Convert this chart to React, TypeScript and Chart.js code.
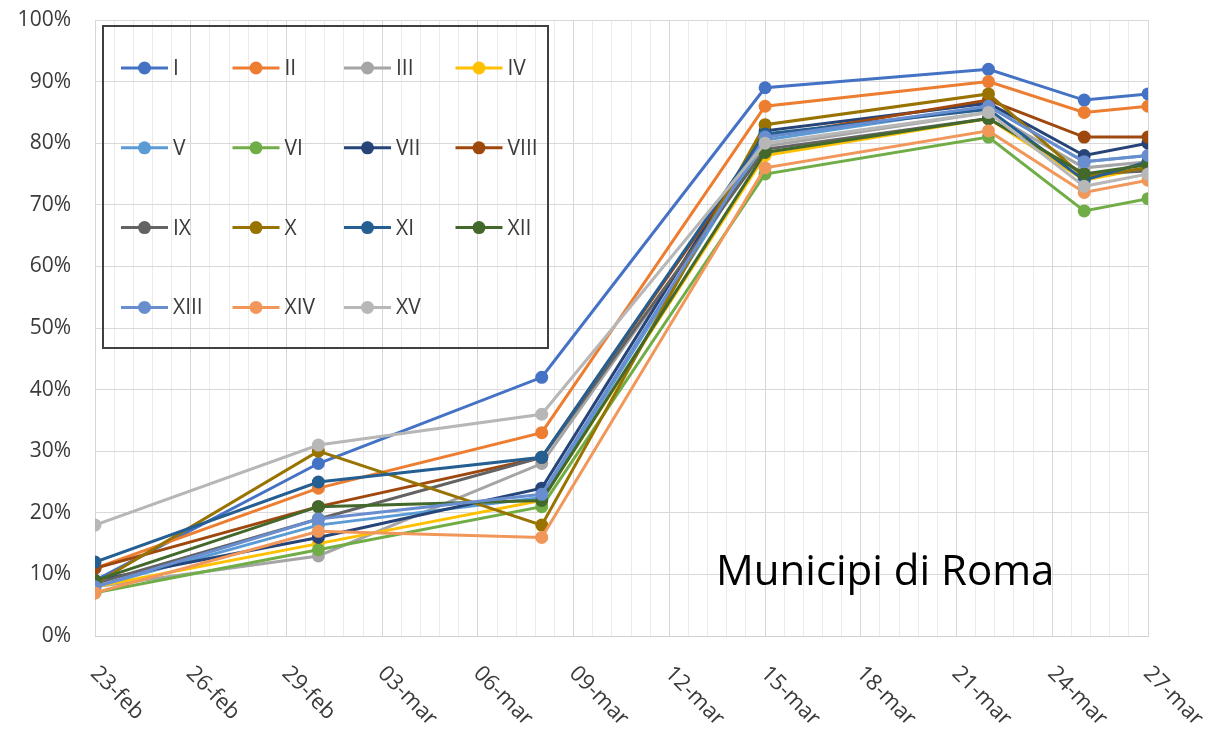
import React, { useEffect, useRef } from 'react';
import { Chart, registerables } from 'chart.js';

Chart.register(...registerables);

// ---- data ----
const sampleDates = ['23-feb', '01-mar', '08-mar', '15-mar', '22-mar', '25-mar', '27-mar'];
const axisLabels = ['23-feb', '26-feb', '29-feb', '03-mar', '06-mar', '09-mar', '12-mar', '15-mar', '18-mar', '21-mar', '24-mar', '27-mar'];
const seriesNames = ['I', 'II', 'III', 'IV', 'V', 'VI', 'VII', 'VIII', 'IX', 'X', 'XI', 'XII', 'XIII', 'XIV', 'XV'];
const seriesColors = ['#4472C4', '#ED7D31', '#A5A5A5', '#FFC000', '#5B9BD5', '#70AD47', '#264478', '#9E480E', '#636363', '#997300', '#255E91', '#43682B', '#698ED0', '#F1975A', '#B7B7B7'];

const sI = [9, 28, 42, 89, 92, 87, 88];
const sII = [11, 24, 33, 86, 90, 85, 86];
const sIII = [8, 13, 28, 79.5, 85, 76, 77];
const sIV = [8, 15, 22, 78, 84, 74, 76];
const sV = [8, 18, 22.5, 80.5, 86, 77, 78];
const sVI = [7, 14, 21, 75, 81, 69, 71];
const sVII = [9, 16, 24, 82, 86.5, 78, 80];
const sVIII = [11, 21, 29, 81, 87, 81, 81];
const sIX = [8.5, 19, 29, 79, 84, 75, 75.5];
const sX = [8.5, 30, 18, 83, 88, 74.5, 76];
const sXI = [12, 25, 29, 81.5, 85.5, 74, 77];
const sXII = [9, 21, 22, 78.5, 84, 75, 76.5];
const sXIII = [8, 19, 23, 81, 86, 77, 78];
const sXIV = [7, 17, 16, 76, 82, 72, 74];
const sXV = [18, 31, 36, 80, 85, 73, 75];

const seriesValues = [sI, sII, sIII, sIV, sV, sVI, sVII, sVIII, sIX, sX, sXI, sXII, sXIII, sXIV, sXV];
const chartTitle = 'Municipi di Roma';

// ---- helpers ----
const monthIndex: Record<string, number> = { feb: 1, mar: 2 };
function dayOffset(label: string): number {
  const [d, m] = label.split('-');
  const t = Date.UTC(2020, monthIndex[m], parseInt(d, 10));
  const t0 = Date.UTC(2020, 1, 23);
  return Math.round((t - t0) / 86400000);
}
const lastDay = dayOffset(axisLabels[axisLabels.length - 1]);
const majorStep = 3;
const minorStep = majorStep / 5;
const FONT = '"Open Sans", "Noto Sans", sans-serif';

const overlayPlugin = {
  id: 'overlay',
  afterDraw(chart: any) {
    const { ctx, chartArea, scales } = chart;
    const x = scales.x;
    ctx.save();
    // rotated x labels
    ctx.font = `22px ${FONT}`;
    ctx.fillStyle = '#3a3a3a';
    ctx.textAlign = 'left';
    ctx.textBaseline = 'middle';
    axisLabels.forEach((lbl) => {
      const px = x.getPixelForValue(dayOffset(lbl));
      ctx.save();
      ctx.translate(px - 1, chartArea.bottom + 34);
      ctx.rotate(Math.PI / 4);
      ctx.fillText(lbl, 0, 0);
      ctx.restore();
    });

    // legend box
    const bx = 103, by = 26, bw = 445, bh = 322;
    ctx.strokeStyle = '#404040';
    ctx.lineWidth = 2;
    ctx.strokeRect(bx, by, bw, bh);
    chart.data.datasets.forEach((ds: any, i: number) => {
      const col = i % 4, row = Math.floor(i / 4);
      const lx = bx + 18 + col * 111.5;
      const ly = by + 42 + row * 79.8;
      ctx.strokeStyle = ds.borderColor;
      ctx.lineWidth = 3;
      ctx.beginPath();
      ctx.moveTo(lx, ly);
      ctx.lineTo(lx + 47, ly);
      ctx.stroke();
      ctx.fillStyle = ds.borderColor;
      ctx.beginPath();
      ctx.arc(lx + 23.5, ly, 6.5, 0, Math.PI * 2);
      ctx.fill();
      ctx.fillStyle = '#3a3a3a';
      ctx.font = `21px ${FONT}`;
      ctx.textAlign = 'left';
      ctx.textBaseline = 'middle';
      ctx.fillText(ds.label, lx + 52, ly + 1);
    });

    // title text
    ctx.fillStyle = '#000';
    ctx.font = `42px ${FONT}`;
    ctx.textAlign = 'left';
    ctx.textBaseline = 'alphabetic';
    ctx.fillText(chartTitle, 716, 585);
    ctx.restore();
  },
};

export default function App() {
  const canvasRef = useRef<HTMLCanvasElement | null>(null);

  useEffect(() => {
    if (!canvasRef.current) return;
    const datasets = seriesNames.map((name, i) => ({
      label: name,
      data: sampleDates.map((d, j) => ({ x: dayOffset(d), y: seriesValues[i][j] })),
      borderColor: seriesColors[i],
      backgroundColor: seriesColors[i],
      borderWidth: 3,
      pointRadius: 6.5,
      pointBorderWidth: 0,
      pointBackgroundColor: seriesColors[i],
      tension: 0,
      order: seriesNames.length - i,
    }));

    const isMajor = (v: number) => Math.abs(v / majorStep - Math.round(v / majorStep)) < 1e-6;

    const chart = new Chart(canvasRef.current, {
      type: 'line',
      data: { datasets },
      plugins: [overlayPlugin],
      options: {
        animation: false,
        responsive: false,
        maintainAspectRatio: false,
        layout: { padding: { top: 20, right: 58, left: 0, bottom: 0 } },
        plugins: { legend: { display: false }, tooltip: { enabled: false } },
        scales: {
          x: {
            type: 'linear',
            min: 0,
            max: lastDay,
            ticks: { display: false, stepSize: minorStep, autoSkip: false },
            grid: {
              color: (c: any) => (c.tick && isMajor(c.tick.value) ? '#d6d6d6' : '#ebebeb'),
              drawTicks: false,
              lineWidth: 1,
            },
            border: { display: true, color: '#d0d0d0' },
            afterFit: (s: any) => {
              s.height = 96;
              s.paddingLeft = 0;
              s.paddingRight = 0;
            },
          },
          y: {
            min: 0,
            max: 100,
            ticks: {
              stepSize: 10,
              callback: (v: any) => v + '%',
              font: { family: FONT, size: 21 },
              color: '#3a3a3a',
              padding: 24,
            },
            grid: { color: '#d9d9d9', drawTicks: false },
            border: { display: false },
            afterFit: (s: any) => {
              s.width = 95;
              s.paddingTop = 0;
              s.paddingBottom = 0;
            },
          },
        },
      },
    } as any);
    return () => chart.destroy();
  }, []);

  return (
    <div style={{ position: 'fixed', left: 0, top: 0, width: 1206, height: 732, background: '#fff' }}>
      <canvas ref={canvasRef} width={1206} height={732} style={{ display: 'block' }} />
    </div>
  );
}
